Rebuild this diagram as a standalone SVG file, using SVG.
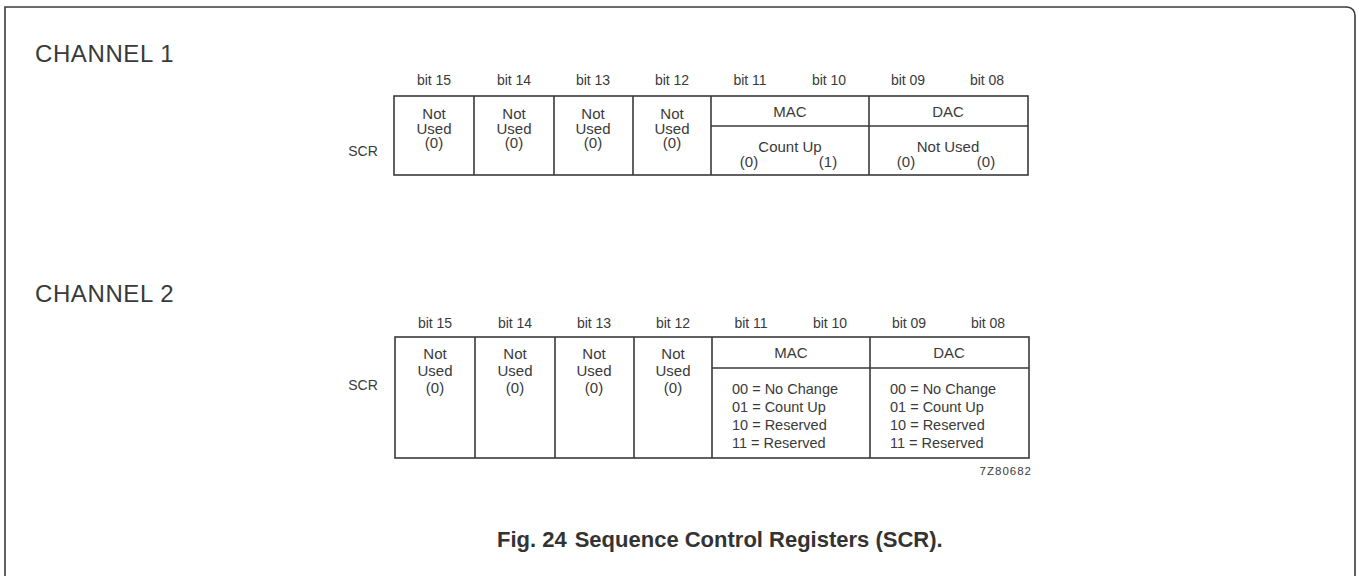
<svg xmlns="http://www.w3.org/2000/svg" width="1359" height="576" viewBox="0 0 1359 576">
<style>
.ln{fill:none;stroke:#3a3a3a;stroke-width:1.6}
text{font-family:"Liberation Sans",Arial,sans-serif;fill:#3a3a3a}
.t{font-size:14px;text-anchor:middle}
.c{font-size:15px;text-anchor:middle}
.l{font-size:14.5px}
.h{font-size:24px;letter-spacing:0.6px}
.cap{font-size:22px;font-weight:bold;fill:#333}
.id{font-size:11.5px;letter-spacing:1px;text-anchor:end}
</style>
<rect width="1359" height="576" fill="#fff"/>
<path class="ln" d="M5,577 V7 H1347 Q1355,8 1355,16 V577"/>

<text class="h" x="35" y="62">CHANNEL 1</text>
<text class="h" x="35" y="302">CHANNEL 2</text>

<g id="ch1">
  <g id="ch1-bits">
    <text class="t" x="434" y="85">bit 15</text>
    <text class="t" x="514" y="85">bit 14</text>
    <text class="t" x="593" y="85">bit 13</text>
    <text class="t" x="672" y="85">bit 12</text>
    <text class="t" x="750" y="85">bit 11</text>
    <text class="t" x="829" y="85">bit 10</text>
    <text class="t" x="908" y="85">bit 09</text>
    <text class="t" x="987" y="85">bit 08</text>
  </g>
  <text class="t" x="363" y="156">SCR</text>
  <g id="ch1-box">
    <rect class="ln" x="394" y="96" width="634" height="79"/>
    <path class="ln" d="M474,96V175M554,96V175M633,96V175M711,96V175M869,96V175M711,126H1028"/>
  </g>
  <g id="ch1-b15"><text class="c" x="434" y="119">Not</text><text class="c" x="434" y="133.5">Used</text><text class="c" x="434" y="148">(0)</text></g>
  <g id="ch1-b14"><text class="c" x="514" y="119">Not</text><text class="c" x="514" y="133.5">Used</text><text class="c" x="514" y="148">(0)</text></g>
  <g id="ch1-b13"><text class="c" x="593" y="119">Not</text><text class="c" x="593" y="133.5">Used</text><text class="c" x="593" y="148">(0)</text></g>
  <g id="ch1-b12"><text class="c" x="672" y="119">Not</text><text class="c" x="672" y="133.5">Used</text><text class="c" x="672" y="148">(0)</text></g>
  <g id="ch1-mac"><text class="c" x="790" y="117">MAC</text><text class="c" x="790" y="152">Count Up</text><text class="c" x="749" y="167">(0)</text><text class="c" x="828" y="167">(1)</text></g>
  <g id="ch1-dac"><text class="c" x="948" y="117">DAC</text><text class="c" x="948" y="152">Not Used</text><text class="c" x="906" y="167">(0)</text><text class="c" x="986" y="167">(0)</text></g>
</g>

<g id="ch2">
  <g id="ch2-bits">
    <text class="t" x="435" y="328">bit 15</text>
    <text class="t" x="515" y="328">bit 14</text>
    <text class="t" x="594" y="328">bit 13</text>
    <text class="t" x="673" y="328">bit 12</text>
    <text class="t" x="751" y="328">bit 11</text>
    <text class="t" x="830" y="328">bit 10</text>
    <text class="t" x="909" y="328">bit 09</text>
    <text class="t" x="988" y="328">bit 08</text>
  </g>
  <text class="t" x="363" y="390">SCR</text>
  <g id="ch2-box">
    <rect class="ln" x="395" y="337" width="634" height="121"/>
    <path class="ln" d="M475,337V458M555,337V458M634,337V458M712,337V458M870,337V458M712,368H1029"/>
  </g>
  <g id="ch2-b15"><text class="c" x="435" y="359">Not</text><text class="c" x="435" y="376">Used</text><text class="c" x="435" y="393">(0)</text></g>
  <g id="ch2-b14"><text class="c" x="515" y="359">Not</text><text class="c" x="515" y="376">Used</text><text class="c" x="515" y="393">(0)</text></g>
  <g id="ch2-b13"><text class="c" x="594" y="359">Not</text><text class="c" x="594" y="376">Used</text><text class="c" x="594" y="393">(0)</text></g>
  <g id="ch2-b12"><text class="c" x="673" y="359">Not</text><text class="c" x="673" y="376">Used</text><text class="c" x="673" y="393">(0)</text></g>
  <g id="ch2-mac"><text class="c" x="791" y="358">MAC</text>
    <text class="l" x="732" y="394">00 = No Change</text><text class="l" x="732" y="412">01 = Count Up</text><text class="l" x="732" y="430">10 = Reserved</text><text class="l" x="732" y="448">11 = Reserved</text></g>
  <g id="ch2-dac"><text class="c" x="949" y="358">DAC</text>
    <text class="l" x="890" y="394">00 = No Change</text><text class="l" x="890" y="412">01 = Count Up</text><text class="l" x="890" y="430">10 = Reserved</text><text class="l" x="890" y="448">11 = Reserved</text></g>
  <text class="id" x="1032" y="475">7Z80682</text>
</g>

<text class="cap" x="497" y="547">Fig. 24<tspan dx="8">Sequence Control Registers (SCR).</tspan></text>
</svg>
